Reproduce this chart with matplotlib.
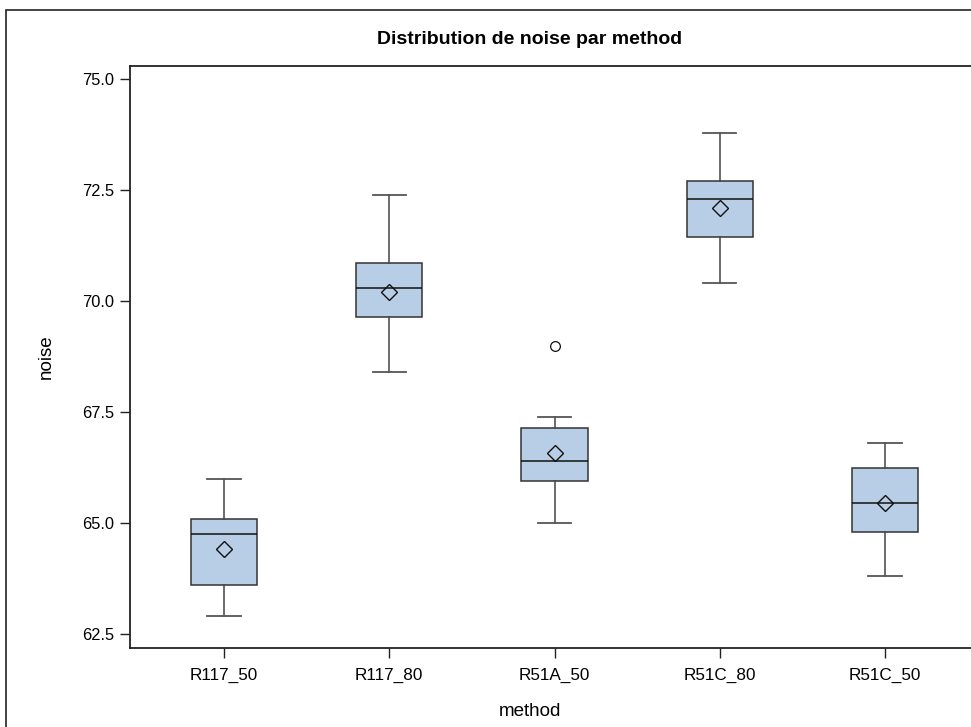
import matplotlib.pyplot as plt
from matplotlib.patches import Rectangle

plt.rcParams['font.family'] = ['Liberation Sans', 'DejaVu Sans']

# valeurs
methods = ['R117_50', 'R117_80', 'R51A_50', 'R51C_80', 'R51C_50']
q1 = [63.60, 69.65, 65.95, 71.45, 64.81]
med = [64.75, 70.30, 66.40, 72.30, 65.45]
q3 = [65.10, 70.85, 67.15, 72.70, 66.25]
means = [64.41, 70.20, 66.59, 72.11, 65.45]
whislo = [62.90, 68.40, 65.00, 70.40, 63.80]
whishi = [66.00, 72.40, 67.40, 73.80, 66.80]
fliers = [[], [], [69.0], [], []]
yticks = [62.5, 65.0, 67.5, 70.0, 72.5, 75.0]

W, H = 971, 727
fig = plt.figure(figsize=(W / 100, H / 100), dpi=100)

# cadre extérieur (coupé à droite et en bas)
fig.patches.append(Rectangle((6 / W, -0.1), 1.2, 1 - 10 / H + 0.1, transform=fig.transFigure,
                             fill=False, edgecolor='#222222', linewidth=1.2, clip_on=False))

ax = fig.add_axes([129.5 / W, (H - 648) / H, 850 / W, 582 / H])

stats = []
for i, m in enumerate(methods):
    stats.append({'label': m, 'q1': q1[i], 'med': med[i], 'q3': q3[i], 'mean': means[i],
                  'whislo': whislo[i], 'whishi': whishi[i], 'fliers': fliers[i]})

ax.bxp(stats, positions=range(1, 6), widths=0.40, patch_artist=True, showmeans=True,
       boxprops=dict(facecolor='#B8CEE6', edgecolor='#333333', linewidth=1.1),
       medianprops=dict(color='#111111', linewidth=1.1),
       whiskerprops=dict(color='#444444', linewidth=1.1),
       capprops=dict(color='#555555', linewidth=1.3),
       capwidths=0.2,
       meanprops=dict(marker='D', markersize=8.2, markerfacecolor='none',
                      markeredgecolor='#111111', markeredgewidth=1.0),
       flierprops=dict(marker='o', markersize=7, markerfacecolor='none',
                       markeredgecolor='#111111', markeredgewidth=0.9))

ax.set_xlim(0.428, 5.572)
ax.set_ylim(62.185, 75.30)
ax.set_yticks(yticks)
ax.set_yticklabels([f'{v:.1f}' for v in yticks])
ax.set_xticks(range(1, 6))
ax.set_xticklabels(methods)
ax.tick_params(axis='both', length=7, width=1, color='#222222')
ax.tick_params(axis='x', pad=7, labelsize=12.3)
ax.tick_params(axis='y', pad=4, labelsize=11.8)
for s in ax.spines.values():
    s.set_linewidth(1.3)
    s.set_color('#222222')

fig.text(530 / W, 1 - 40 / H, 'Distribution de noise par method', ha='center', va='center',
         fontsize=14, fontweight='bold')
fig.text(530 / W, 1 - 712 / H, 'method', ha='center', va='center', fontsize=13.5)
fig.text(46 / W, 1 - 357 / H, 'noise', ha='center', va='center', fontsize=13.5, rotation=90)

fig.savefig('out.png', dpi=100)
